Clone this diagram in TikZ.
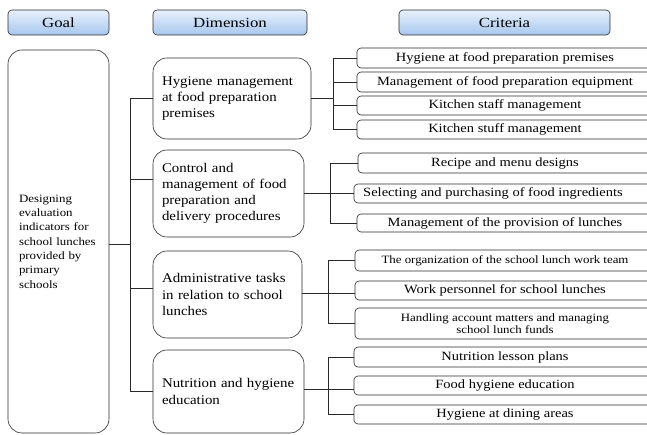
\documentclass[tikz,border=0pt]{standalone}
\usepackage{fontspec}
\setmainfont{Liberation Serif}
\newfontfamily\hdrfont[FakeStretch=1.2]{Liberation Serif}
\newfontfamily\dimfont[FakeStretch=1.12]{Liberation Serif}
\newfontfamily\critfont[FakeStretch=1.15]{Liberation Serif}
\newfontfamily\goalfont[FakeStretch=1.15]{Liberation Serif}
\definecolor{hdrtop}{HTML}{E8F1FC}
\definecolor{hdrbot}{HTML}{A6C6EE}
\definecolor{linec}{HTML}{2A2A2A}
\begin{document}
\begin{tikzpicture}[x=1pt,y=-1pt,
  hdr/.style={draw=linec, line width=0.6pt, rounded corners=4pt, top color=hdrtop, bottom color=hdrbot,
    minimum height=25pt, inner sep=0pt, font=\hdrfont\fontsize{14}{16}\selectfont},
  goalbox/.style={draw=linec, line width=0.6pt, rounded corners=14pt, inner xsep=11pt, inner ysep=0pt,
    align=left, font=\goalfont\fontsize{11.2}{14.3}\selectfont},
  dimbox/.style={draw=linec, line width=0.6pt, rounded corners=14pt, inner xsep=9pt, inner ysep=0pt,
    align=left, font=\dimfont\fontsize{13.3}{16.2}\selectfont},
  critbox/.style={draw=linec, line width=0.6pt, rounded corners=4pt, inner sep=0pt,
    align=center, font=\critfont\fontsize{12.6}{14}\selectfont},
  smallcrit/.style={critbox, font=\critfont\fontsize{11.2}{12.5}\selectfont},
  conn/.style={draw=linec, line width=0.6pt}
]
\useasboundingbox (0,0) rectangle (647,435);
\clip (0,0) rectangle (647,435);

% headers
\node[hdr, minimum width=101pt] (hgoal) at (58.5,22.5) {Goal};
\node[hdr, minimum width=154pt] (hdim) at (230,22.5) {Dimension};
\node[hdr, minimum width=211pt] (hcrit) at (504.5,22.5) {Criteria};

% goal
\node[goalbox, minimum width=101pt, minimum height=383pt, text width=79pt] (goal) at (58.5,241.5)
  {Designing\\evaluation\\indicators for\\school lunches\\provided by\\primary\\schools};

% dimensions
\node[dimbox, minimum width=158pt, minimum height=81pt, text width=140pt] (d1) at (232,98.5)
  {Hygiene management\\at food preparation\\premises};
\node[dimbox, minimum width=151pt, minimum height=87pt, text width=133pt] (d2) at (228.5,193.5)
  {Control and\\management of food\\preparation and\\delivery procedures};
\node[dimbox, minimum width=149pt, minimum height=87pt, text width=131pt] (d3) at (227.5,294.5)
  {Administrative tasks\\in relation to school\\lunches};
\node[dimbox, minimum width=151pt, minimum height=83pt, text width=133pt] (d4) at (228.5,391.5)
  {Nutrition and hygiene\\education};

% criteria
\node[critbox, minimum width=296pt, minimum height=20pt] (c1) at (505,58) {Hygiene at food preparation premises};
\node[critbox, minimum width=296pt, minimum height=20pt] (c2) at (505,82) {Management of food preparation equipment};
\node[critbox, minimum width=296pt, minimum height=19pt] (c3) at (505,105.5) {Kitchen staff management};
\node[critbox, minimum width=296pt, minimum height=19pt] (c4) at (505,129.5) {Kitchen stuff management};

\node[critbox, minimum width=294pt, minimum height=20pt] (c5) at (505,163) {Recipe and menu designs};
\node[critbox, minimum width=302pt, minimum height=19pt] (c6) at (505,193.5) {\hspace*{-24pt}Selecting and purchasing of food ingredients};
\node[critbox, minimum width=296pt, minimum height=18pt] (c7) at (505,223) {Management of the provision of lunches};

\node[smallcrit, minimum width=300pt, minimum height=21pt] (c8) at (505,260.5) {The organization of the school lunch work team};
\node[critbox, minimum width=300pt, minimum height=19pt] (c9) at (505,290.5) {Work personnel for school lunches};
\node[smallcrit, minimum width=300pt, minimum height=31pt] (c10) at (505,323.5) {Handling account matters and managing\\school lunch funds};

\node[critbox, minimum width=302pt, minimum height=20pt] (c11) at (505,357) {Nutrition lesson plans};
\node[critbox, minimum width=302pt, minimum height=19pt] (c12) at (505,385.5) {Food hygiene education};
\node[critbox, minimum width=302pt, minimum height=19pt] (c13) at (505,414.5) {Hygiene at dining areas};

% trunk coordinates
\coordinate (t0) at (130,0);
\coordinate (t1) at (333,0);
\coordinate (t2) at (330,0);
\coordinate (t3) at (328,0);
\coordinate (t4) at (328,0);

% goal to dimensions
\draw[conn] ([yshift=-2.5pt]goal.east) -- ([yshift=-2.5pt]goal.east -| t0);
\draw[conn] (d1.west -| t0) -- (d4.west -| t0);
\draw[conn] (d1.west -| t0) -- (d1.west);
\draw[conn] ([yshift=14pt]d2.west -| t0) -- ([yshift=14pt]d2.west);
\draw[conn] ([yshift=6pt]d3.west -| t0) -- ([yshift=6pt]d3.west);
\draw[conn] (d4.west -| t0) -- (d4.west);

% dimension 1
\draw[conn] (d1.east) -- (d1.east -| t1);
\draw[conn] (c1.west -| t1) -- (c4.west -| t1);
\foreach \c in {c1,c2,c3,c4} \draw[conn] (\c.west -| t1) -- (\c.west);

% dimension 2
\draw[conn] (d2.east) -- (d2.east -| c6.west);
\draw[conn] (c5.west -| t2) -- (c7.west -| t2);
\foreach \c in {c5,c7} \draw[conn] (\c.west -| t2) -- (\c.west);

% dimension 3
\draw[conn] ([yshift=1.5pt]d3.east) -- ([yshift=1.5pt]d3.east -| c9.west);
\draw[conn] (c8.west -| t3) -- (c10.west -| t3);
\foreach \c in {c8,c10} \draw[conn] (\c.west -| t3) -- (\c.west);

% dimension 4
\draw[conn] ([yshift=2.5pt]d4.east) -- ([yshift=2.5pt]d4.east -| c12.west);
\draw[conn] (c11.west -| t4) -- (c13.west -| t4);
\foreach \c in {c11,c13} \draw[conn] (\c.west -| t4) -- (\c.west);
\end{tikzpicture}
\end{document}
